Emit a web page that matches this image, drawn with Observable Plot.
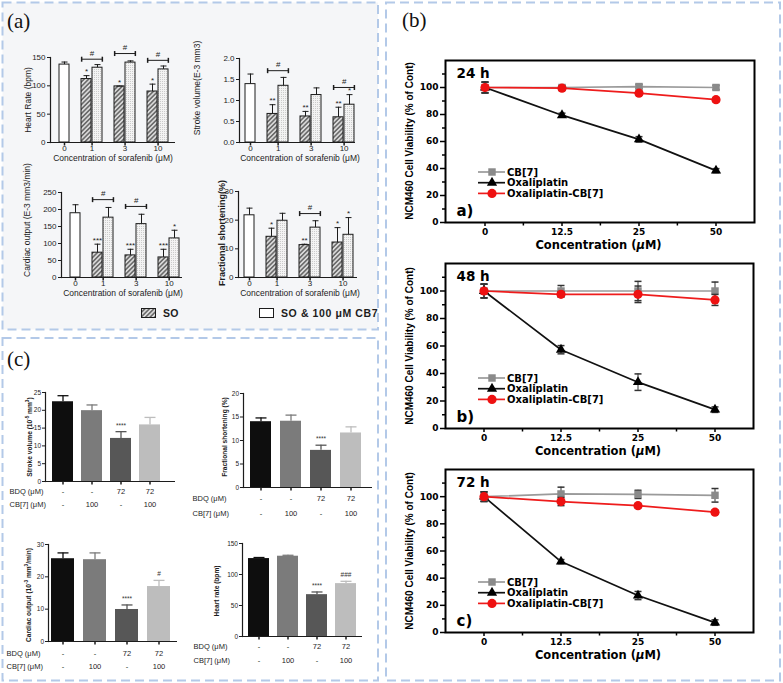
<!DOCTYPE html>
<html><head><meta charset="utf-8">
<script src="https://cdn.jsdelivr.net/npm/d3@7"></script>
<script src="https://cdn.jsdelivr.net/npm/@observablehq/plot@0.6"></script>
<style>
html,body{margin:0;padding:0;background:#fff;}
#root{position:relative;width:783px;height:683px;overflow:hidden;font-family:Arial,"Liberation Sans",sans-serif;}
#root svg{overflow:visible;}
</style></head>
<body><div id="root"></div>
<script>
// ---------------- DATA: panel (a) sorafenib ----------------
const sorafenibConc = ["0", "1", "3", "10"];
const hrCtrl = 137.5, hrCtrlErr = 4.5;
const hrSO = [112, 99, 90], hrSOErr = [6, 0.5, 13];
const hrCB = [132, 141, 129], hrCBErr = [5.5, 3, 6];
const hrSOSig = ["*", "*", "*"], hrCBSig = ["", "", ""];
const hrBracketConc = ["1", "3", "10"], hrBracketLevel = [147, 157, 145];

const svCtrl = 1.39, svCtrlErr = 0.24;
const svSO = [0.68, 0.62, 0.60], svSOErr = [0.22, 0.12, 0.24];
const svCB = [1.35, 1.13, 0.90], svCBErr = [0.2, 0.17, 0.24];
const svSOSig = ["**", "**", "**"], svCBSig = ["", "", "*"];
const svBracketConc = ["1", "10"], svBracketLevel = [1.71, 1.31];

const coCtrl = 189, coCtrlErr = 25;
const coSO = [73, 65, 59], coSOErr = [25, 18, 24];
const coCB = [176, 157, 115], coCBErr = [30, 29, 24];
const coSOSig = ["***", "***", "***"], coCBSig = ["", "", "*"];
const coBracketConc = ["1", "3"], coBracketLevel = [229, 209];

const fsCtrl = 21.7, fsCtrlErr = 2.5;
const fsSO = [14.2, 11.3, 12.2], fsSOErr = [3, 0.3, 5.2];
const fsCB = [19.8, 17.4, 14.9], fsCBErr = [2.6, 2.4, 6];
const fsSOSig = ["*", "**", "*"], fsCBSig = ["", "", "*"];
const fsBracketConc = ["3"], fsBracketLevel = [22.3];

// ---------------- DATA: panel (b) NCM460 viability ----------------
const oxConc = ["0", "12.5", "25", "50"];
const seriesNames = ["CB[7]", "Oxaliplatin", "Oxaliplatin-CB[7]"];
const v24CB = [100, 100, 100.7, 100], v24CBErr = [4, 1.5, 1.5, 1.5];
const v24Ox = [100, 79.5, 61.6, 38.4], v24OxErr = [4, 1.5, 2, 1.5];
const v24OC = [100, 99.5, 95.8, 91], v24OCErr = [4, 1.5, 1.5, 1.5];
const v48CB = [100, 100, 100, 100], v48CBErr = [5, 4, 7, 6.5];
const v48Ox = [100, 57.3, 33.7, 13.7], v48OxErr = [5, 3, 6, 2];
const v48OC = [100, 97.6, 97.6, 93.5], v48OCErr = [5, 2, 6, 4];
const v72CB = [100, 102, 101.7, 101], v72CBErr = [3.5, 5, 3, 5];
const v72Ox = [100, 52.2, 27.2, 7.3], v72OxErr = [3.5, 1.5, 3, 2];
const v72OC = [100, 96.4, 93.4, 88.6], v72OCErr = [3.5, 3, 1.5, 1.5];

// ---------------- DATA: panel (c) BDQ ----------------
const bdqDose = ["-", "-", "72", "72"];
const cb7Dose = ["-", "100", "-", "100"];
const svC = [22.4, 19.9, 12.1, 15.9], svCErr = [1.7, 1.6, 1.9, 2.1], svCSig = ["", "", "****", ""];
const fsC = [14.0, 14.1, 7.9, 11.6], fsCErr = [0.8, 1.3, 1.1, 1.3], fsCSig = ["", "", "****", ""];
const coC = [25.6, 25.3, 9.9, 17.0], coCErr = [1.8, 2.1, 1.4, 1.9], coCSig = ["", "", "****", "#"];
const hrC = [125.7, 129.5, 67.5, 85.3], hrCErr = [1.7, 1.5, 4.3, 3.7], hrCSig = ["", "", "****", "###"];
const cGrays = ["#0e0e0e", "#7b7b7b", "#575757", "#bdbdbd"];

// ---------------- helpers ----------------
const fontA = "Arial, 'Liberation Sans', Helvetica, sans-serif";
const fontB = "'DejaVu Sans', Verdana, sans-serif";
const fontSerif = "'Liberation Serif', 'Times New Roman', serif";
const root = document.getElementById("root");
const ink = "#1c1c1c";

const capSym = {draw(ctx, size) { const r = Math.sqrt(size / Math.PI); ctx.moveTo(-r, 0); ctx.lineTo(r, 0); }};
const barSym = {draw(ctx, size) { const r = Math.sqrt(size / Math.PI); ctx.moveTo(0, -r); ctx.lineTo(0, r); }};
const downSym = {draw(ctx, size) { const r = Math.sqrt(size / Math.PI); ctx.moveTo(0, 0); ctx.lineTo(0, r); }};

function label(html, x, y, o = {}) {
  const el = document.createElement("div");
  const s = el.style;
  s.position = "absolute"; s.left = x + "px"; s.top = y + "px";
  s.whiteSpace = "nowrap"; s.lineHeight = "1";
  s.fontFamily = o.family || fontA; s.fontSize = (o.size || 8) + "px"; s.fontWeight = o.weight || "normal";
  s.color = o.color || ink; s.letterSpacing = (o.spacing || 0) + "px";
  const tx = o.anchor === "start" ? "0" : o.anchor === "end" ? "-100%" : "-50%";
  s.transform = `translate(${tx}, -50%)` + (o.rotate ? ` rotate(${o.rotate}deg)` : "");
  el.innerHTML = html;
  root.appendChild(el);
}
function mount(plot, left, top) {
  plot.style.position = "absolute"; plot.style.left = left + "px"; plot.style.top = top + "px";
  plot.style.background = "transparent"; plot.style.overflow = "visible"; plot.style.maxWidth = "none";
  root.appendChild(plot);
}

// background panels + patterns
const bg = d3.select(root).append("svg").attr("width", 783).attr("height", 683)
  .style("position", "absolute").style("left", "0px").style("top", "0px");
const defs = bg.append("defs");
const hatch = defs.append("pattern").attr("id", "hatchSO").attr("patternUnits", "userSpaceOnUse")
  .attr("width", 3.2).attr("height", 3.2).attr("patternTransform", "rotate(45)");
hatch.append("rect").attr("width", 3.2).attr("height", 3.2).attr("fill", "#d9d9d9");
hatch.append("line").attr("x1", 0.8).attr("y1", 0).attr("x2", 0.8).attr("y2", 3.2).attr("stroke", "#3a3a3a").attr("stroke-width", 1.1);
const dots = defs.append("pattern").attr("id", "dotsCB").attr("patternUnits", "userSpaceOnUse").attr("width", 2).attr("height", 2);
dots.append("rect").attr("width", 2).attr("height", 2).attr("fill", "#f3f3f3");
dots.append("rect").attr("width", 0.8).attr("height", 0.8).attr("fill", "#b5b5b5");
const panels = [
  {x: 2.5, y: 2.5, w: 375.5, h: 327, fill: "#f5f6f8"},
  {x: 2.5, y: 338, w: 375.5, h: 342.5, fill: "#ffffff"},
  {x: 386, y: 2.5, w: 394, h: 678, fill: "#ffffff"}
];
bg.selectAll("rect.panel").data(panels).join("rect").attr("class", "panel")
  .attr("x", d => d.x).attr("y", d => d.y).attr("width", d => d.w).attr("height", d => d.h)
  .attr("fill", d => d.fill).attr("stroke", "#b3c9e8").attr("stroke-width", 2).attr("stroke-dasharray", "9 5");

// ---------------- panel (a) ----------------
function sorafenibChart(c) {
  const mL = 32, mR = 8, mT = 26, mB = 14;
  const ox = c.axisL - mL, oy = c.top - mT;
  const rows = [{key: sorafenibConc[0], v: c.ctrl, e: c.ctrlErr, fill: "#ffffff", sig: ""}];
  const domain = [sorafenibConc[0]];
  sorafenibConc.slice(1).forEach((k, i) => {
    domain.push(`gap ${k}`, `${k} SO`, `${k} CB7`);
    rows.push({key: `${k} SO`, v: c.so[i], e: c.soErr[i], fill: "url(#hatchSO)", sig: c.soSig[i]});
    rows.push({key: `${k} CB7`, v: c.cb[i], e: c.cbErr[i], fill: "url(#dotsCB)", sig: c.cbSig[i]});
  });
  const pad = 0.13;
  const step = (c.barR - c.barL) / (domain.length - pad);
  const bw = step * (1 - pad);
  const brackets = c.brConc.map((k, i) => ({a: `${k} SO`, b: `${k} CB7`, y: c.brLevel[i]}));
  const first = [sorafenibConc[0]];
  const pairs = sorafenibConc.slice(1);
  const plot = Plot.plot({
    width: c.axisR - c.axisL + mL + mR, height: c.bottom - c.top + mT + mB,
    marginLeft: mL, marginRight: mR, marginTop: mT, marginBottom: mB,
    x: {type: "band", domain, range: [c.barL - ox, c.barR - ox], paddingInner: pad, paddingOuter: 0, axis: null},
    y: {domain: [0, c.yMax], axis: null},
    color: {type: "identity"},
    style: {fontFamily: fontA, color: ink, background: "transparent", overflow: "visible"},
    marks: [
      Plot.barY(rows, {x: "key", y: "v", fill: "fill", stroke: ink, strokeWidth: 1}),
      Plot.ruleX(rows, {x: "key", y1: "v", y2: d => d.v + d.e, stroke: ink, strokeWidth: 1}),
      Plot.dot(rows, {x: "key", y: d => d.v + d.e, symbol: capSym, r: 3, stroke: ink, fill: "none", strokeWidth: 1}),
      Plot.text(rows.filter(d => d.sig), {x: "key", y: d => d.v + d.e, text: "sig", dy: -4, fontSize: 8, fill: ink}),
      Plot.ruleY(brackets, {x1: "a", x2: "b", y: "y", stroke: ink, strokeWidth: 1}),
      Plot.dot(brackets, {x: "a", y: "y", symbol: barSym, r: 2.5, dx: -bw / 2, stroke: ink, fill: "none"}),
      Plot.dot(brackets, {x: "b", y: "y", symbol: barSym, r: 2.5, dx: bw / 2, stroke: ink, fill: "none"}),
      Plot.text(brackets, {x: "a", y: "y", text: () => "#", dx: step / 2, dy: -6, fontSize: 8, fill: ink}),
      Plot.ruleY([0], {stroke: ink, strokeWidth: 1.2}),
      Plot.frame({anchor: "left", stroke: ink, strokeWidth: 1.2}),
      Plot.axisY({ticks: c.yTicks, tickFormat: c.yFormat, tickSize: 3, tickPadding: 2, fontSize: 8, label: null}),
      Plot.dot(first, {x: d => d, frameAnchor: "bottom", symbol: downSym, r: 3, stroke: ink, fill: "none"}),
      Plot.dot(pairs, {x: d => `${d} SO`, frameAnchor: "bottom", symbol: downSym, r: 3, dx: step / 2, stroke: ink, fill: "none"}),
      Plot.text(first, {x: d => d, text: d => d, frameAnchor: "bottom", lineAnchor: "middle", dy: 6, fontSize: 8, fill: ink}),
      Plot.text(pairs, {x: d => `${d} SO`, text: d => d, frameAnchor: "bottom", lineAnchor: "middle", dy: 6, dx: step / 2, fontSize: 8, fill: ink})
    ]
  });
  mount(plot, ox, oy);
}

sorafenibChart({axisL: 50, axisR: 175, top: 57, bottom: 142, barL: 58, barR: 168, yMax: 150, yTicks: [0, 50, 100, 150],
  ctrl: hrCtrl, ctrlErr: hrCtrlErr, so: hrSO, soErr: hrSOErr, cb: hrCB, cbErr: hrCBErr, soSig: hrSOSig, cbSig: hrCBSig,
  brConc: hrBracketConc, brLevel: hrBracketLevel});
sorafenibChart({axisL: 239, axisR: 355, top: 58, bottom: 142, barL: 244, barR: 355, yMax: 2, yTicks: [0, 0.5, 1, 1.5, 2], yFormat: d3.format(".1f"),
  ctrl: svCtrl, ctrlErr: svCtrlErr, so: svSO, soErr: svSOErr, cb: svCB, cbErr: svCBErr, soSig: svSOSig, cbSig: svCBSig,
  brConc: svBracketConc, brLevel: svBracketLevel});
sorafenibChart({axisL: 61, axisR: 182, top: 192, bottom: 277, barL: 68, barR: 180, yMax: 250, yTicks: [0, 50, 100, 150, 200, 250],
  ctrl: coCtrl, ctrlErr: coCtrlErr, so: coSO, soErr: coSOErr, cb: coCB, cbErr: coCBErr, soSig: coSOSig, cbSig: coCBSig,
  brConc: coBracketConc, brLevel: coBracketLevel});
sorafenibChart({axisL: 238, axisR: 357, top: 191, bottom: 277, barL: 243, barR: 353, yMax: 30, yTicks: [0, 10, 20, 30],
  ctrl: fsCtrl, ctrlErr: fsCtrlErr, so: fsSO, soErr: fsSOErr, cb: fsCB, cbErr: fsCBErr, soSig: fsSOSig, cbSig: fsCBSig,
  brConc: fsBracketConc, brLevel: fsBracketLevel});

const xTitleA = "Concentration of sorafenib (μM)";
label(xTitleA, 113, 158, {size: 8.5});
label(xTitleA, 300, 158, {size: 8.5});
label(xTitleA, 123, 293, {size: 8.5});
label(xTitleA, 300, 293, {size: 8.5});
label("Heart Rate (bpm)", 28, 100, {size: 8.5, rotate: -90});
label("Stroke volume(E-3 mm3)", 197, 88, {size: 8.5, rotate: -90});
label("Cardiac output (E-3 mm3/min)", 27, 220, {size: 8.5, rotate: -90});
label("Fractional shortening(%)", 222, 233, {size: 9, rotate: -90, weight: "bold"});

// legend (a)
const legA = d3.select(root).append("svg").attr("width", 783).attr("height", 683)
  .style("position", "absolute").style("left", "0px").style("top", "0px").style("pointer-events", "none");
legA.append("rect").attr("x", 141.5).attr("y", 308.5).attr("width", 14).attr("height", 9).attr("fill", "url(#hatchSO)").attr("stroke", ink);
legA.append("rect").attr("x", 259.5).attr("y", 308.5).attr("width", 14).attr("height", 9).attr("fill", "#ffffff").attr("stroke", ink);
label("SO", 163, 313, {size: 10.5, weight: "bold", anchor: "start", spacing: 0.3});
label("SO &amp; 100 μM CB7", 281, 313, {size: 10.5, weight: "bold", anchor: "start", spacing: 0.6});
label("(a)", 7, 21, {size: 21, family: fontSerif, anchor: "start", color: "#111"});

// ---------------- panel (b) ----------------
function viabilityChart(c) {
  const mL = 40, mR = 6, mT = 6, mB = 22;
  const ox = c.frameL - mL, oy = c.frameT - mT;
  const step = (c.frameR - c.frameL) / oxConc.length;
  const specs = [
    {v: c.cbV, e: c.cbE, line: "#9a9a9a", fill: "#8a8a8a", symbol: "square", r: 4.2},
    {v: c.oxV, e: c.oxE, line: "#111111", fill: "#000000", symbol: "triangle", r: 3.8},
    {v: c.ocV, e: c.ocE, line: "#ee1c1c", fill: "#ee1111", symbol: "circle", r: 4.6}
  ];
  const marks = [
    Plot.axisY({ticks: [0, 20, 40, 60, 80, 100], tickSize: 5, tickPadding: 2, fontSize: 9, fontWeight: "bold", fontFamily: fontB, label: null, strokeWidth: 1.5}),
    Plot.axisY({ticks: [10, 30, 50, 70, 90, 110], tickSize: 3, tickFormat: () => "", label: null, strokeWidth: 1.5}),
    Plot.axisX({tickSize: 4, tickPadding: 2, fontSize: 9, fontWeight: "bold", fontFamily: fontB, label: null, strokeWidth: 1.5}),
    Plot.dot(oxConc.slice(1), {x: d => d, frameAnchor: "bottom", symbol: downSym, r: 3, dx: -step / 2, stroke: "#000", fill: "none", strokeWidth: 1.5})
  ];
  const series = specs.map(s => oxConc.map((k, i) => ({c: k, v: s.v[i], e: s.e[i]})));
  specs.forEach((s, j) => marks.push(Plot.line(series[j], {x: "c", y: "v", stroke: s.line, strokeWidth: 1.7})));
  specs.forEach((s, j) => {
    marks.push(Plot.ruleX(series[j], {x: "c", y1: d => d.v - d.e, y2: d => d.v + d.e, stroke: "#333", strokeWidth: 1}));
    marks.push(Plot.dot(series[j], {x: "c", y: d => d.v + d.e, symbol: capSym, r: 3.5, stroke: "#333", fill: "none"}));
    marks.push(Plot.dot(series[j], {x: "c", y: d => d.v - d.e, symbol: capSym, r: 3.5, stroke: "#333", fill: "none"}));
    marks.push(Plot.dot(series[j], {x: "c", y: "v", symbol: s.symbol, r: s.r, fill: s.fill, stroke: "none"}));
  });
  marks.push(Plot.text([c.time], {text: d => d, frameAnchor: "top-left", textAnchor: "start", lineAnchor: "middle", dx: 11, dy: 13, fontSize: 13.5, fontWeight: "bold", fontFamily: fontB, fill: "#000"}));
  marks.push(Plot.text([c.tag], {text: d => d, frameAnchor: "bottom-left", textAnchor: "start", lineAnchor: "middle", dx: 11, dy: -11, fontSize: 15, fontWeight: "bold", fontFamily: fontB, fill: "#000"}));
  marks.push(Plot.frame({stroke: "#000", strokeWidth: 2}));
  const plot = Plot.plot({
    width: c.frameR - c.frameL + mL + mR, height: c.frameB - c.frameT + mT + mB,
    marginLeft: mL, marginRight: mR, marginTop: mT, marginBottom: mB,
    x: {type: "band", domain: oxConc, padding: 0, axis: null},
    y: {domain: [0, 120], axis: null},
    style: {fontFamily: fontB, color: "#000", background: "transparent", overflow: "visible"},
    marks
  });
  mount(plot, ox, oy);
  // legend
  const lg = d3.select(root).append("svg").attr("width", 150).attr("height", 40)
    .style("position", "absolute").style("left", (c.frameL + 30) + "px").style("top", (c.frameB - 57) + "px");
  const legendRows = seriesNames.map((n, i) => ({n, s: specs[i], y: 7 + i * 10.7}));
  const gRow = lg.selectAll("g").data(legendRows).join("g").attr("transform", d => `translate(0,${d.y})`);
  gRow.append("line").attr("x1", 3).attr("x2", 30).attr("stroke", d => d.s.line).attr("stroke-width", 1.7);
  gRow.append("path").attr("transform", "translate(17,0)")
    .attr("d", d => d3.symbol(d.s.symbol === "square" ? d3.symbolSquare : d.s.symbol === "triangle" ? d3.symbolTriangle : d3.symbolCircle, Math.PI * d.s.r * d.s.r)())
    .attr("fill", d => d.s.fill);
  gRow.append("text").attr("x", 32).attr("dy", "0.35em").attr("font-family", fontB).attr("font-weight", "bold")
    .attr("font-size", 10).attr("fill", "#000").text(d => d.n);
  // titles
  label("Concentration (<i>μ</i>M)", (c.frameL + c.frameR) / 2 - 1, c.frameB + 24, {size: 11.5, weight: "bold", family: fontB, color: "#000"});
  label("NCM460 Cell Viability (% of Cont)", 410, (c.frameT + c.frameB) / 2, {size: 10, weight: "bold", rotate: -90, color: "#000"});
}
viabilityChart({frameL: 445, frameR: 754, frameT: 60, frameB: 222, cbV: v24CB, cbE: v24CBErr, oxV: v24Ox, oxE: v24OxErr, ocV: v24OC, ocE: v24OCErr, time: "24 h", tag: "a)"});
viabilityChart({frameL: 445, frameR: 753, frameT: 263, frameB: 428, cbV: v48CB, cbE: v48CBErr, oxV: v48Ox, oxE: v48OxErr, ocV: v48OC, ocE: v48OCErr, time: "48 h", tag: "b)"});
viabilityChart({frameL: 445, frameR: 753, frameT: 469, frameB: 632, cbV: v72CB, cbE: v72CBErr, oxV: v72Ox, oxE: v72OxErr, ocV: v72OC, ocE: v72OCErr, time: "72 h", tag: "c)"});
label("(b)", 402, 20, {size: 21, family: fontSerif, anchor: "start", color: "#111"});

// ---------------- panel (c) ----------------
function bdqChart(c) {
  const mL = 50, mR = 6, mT = 14, mB = 30;
  const ox = c.axisL - mL, oy = c.top - mT;
  const keys = bdqDose.map((b, i) => `${b}/${cb7Dose[i]}/${i}`);
  const rows = keys.map((k, i) => ({key: k, v: c.vals[i], e: c.errs[i], fill: cGrays[i], sig: c.sig[i], bdq: bdqDose[i], cb: cb7Dose[i]}));
  const plot = Plot.plot({
    width: c.axisR - c.axisL + mL + mR, height: c.bottom - c.top + mT + mB,
    marginLeft: mL, marginRight: mR, marginTop: mT, marginBottom: mB,
    x: {type: "band", domain: keys, range: [c.barL - ox, c.barR - ox], paddingInner: 0.29, paddingOuter: 0, axis: null},
    y: {domain: [0, c.yMax], axis: null},
    color: {type: "identity"},
    style: {fontFamily: fontA, color: ink, background: "transparent", overflow: "visible"},
    marks: [
      Plot.barY(rows, {x: "key", y: "v", fill: "fill"}),
      Plot.ruleX(rows, {x: "key", y1: "v", y2: d => d.v + d.e, stroke: "fill", strokeWidth: 1.3}),
      Plot.dot(rows, {x: "key", y: d => d.v + d.e, symbol: capSym, r: 5.5, stroke: "fill", fill: "none", strokeWidth: 1.3}),
      Plot.text(rows.filter(d => d.sig), {x: "key", y: d => d.v + d.e, text: "sig", dy: -6, fontSize: 6.5, fill: "#333"}),
      Plot.ruleY([0], {stroke: ink, strokeWidth: 1.2}),
      Plot.frame({anchor: "left", stroke: ink, strokeWidth: 1.2}),
      Plot.axisY({ticks: c.yTicks, tickSize: 3, tickPadding: 1.5, fontSize: 6.5, label: null}),
      Plot.dot(rows, {x: "key", frameAnchor: "bottom", symbol: downSym, r: 3, stroke: ink, fill: "none"}),
      Plot.text(rows, {x: "key", text: "bdq", frameAnchor: "bottom", lineAnchor: "middle", dy: c.rowDy[0], fontSize: 7.5, fill: ink}),
      Plot.text(rows, {x: "key", text: "cb", frameAnchor: "bottom", lineAnchor: "middle", dy: c.rowDy[1], fontSize: 7.5, fill: ink}),
      Plot.text(["BDQ (μM)"], {text: d => d, frameAnchor: "bottom-left", textAnchor: "start", lineAnchor: "middle", dx: c.rowX - c.axisL, dy: c.rowDy[0], fontSize: 7.5, fill: ink}),
      Plot.text(["CB[7] (μM)"], {text: d => d, frameAnchor: "bottom-left", textAnchor: "start", lineAnchor: "middle", dx: c.rowX - c.axisL, dy: c.rowDy[1], fontSize: 7.5, fill: ink})
    ]
  });
  mount(plot, ox, oy);
  label(c.yTitle, c.titleX, c.titleY, {size: 6.6, weight: "bold", rotate: -90});
}
bdqChart({axisL: 45, axisR: 175, top: 392, bottom: 481, barL: 51, barR: 161, yMax: 25, yTicks: [0, 5, 10, 15, 20, 25],
  vals: svC, errs: svCErr, sig: svCSig, rowDy: [10, 23], rowX: 9,
  yTitle: "Stroke volume (10<sup style='font-size:70%'>-5</sup> mm<sup style='font-size:70%'>3</sup>)", titleX: 30, titleY: 437});
bdqChart({axisL: 243, axisR: 372, top: 393, bottom: 487, barL: 248, barR: 363, yMax: 20, yTicks: [0, 5, 10, 15, 20],
  vals: fsC, errs: fsCErr, sig: fsCSig, rowDy: [11, 26], rowX: 192,
  yTitle: "Fractional shortening (%)", titleX: 225, titleY: 437});
bdqChart({axisL: 48, axisR: 177, top: 544, bottom: 641, barL: 51, barR: 170, yMax: 30, yTicks: [0, 10, 20, 30],
  vals: coC, errs: coCErr, sig: coCSig, rowDy: [12, 25], rowX: 6,
  yTitle: "Cardiac output (10<sup style='font-size:70%'>-3</sup> mm<sup style='font-size:70%'>3</sup>/min)", titleX: 29, titleY: 595});
bdqChart({axisL: 242, axisR: 362, top: 543, bottom: 636, barL: 247, barR: 357, yMax: 150, yTicks: [0, 50, 100, 150],
  vals: hrC, errs: hrCErr, sig: hrCSig, rowDy: [10, 24], rowX: 193,
  yTitle: "Heart rate (bpm)", titleX: 217, titleY: 591});
label("(c)", 7, 359, {size: 21, family: fontSerif, anchor: "start", color: "#111"});
</script></body></html>
